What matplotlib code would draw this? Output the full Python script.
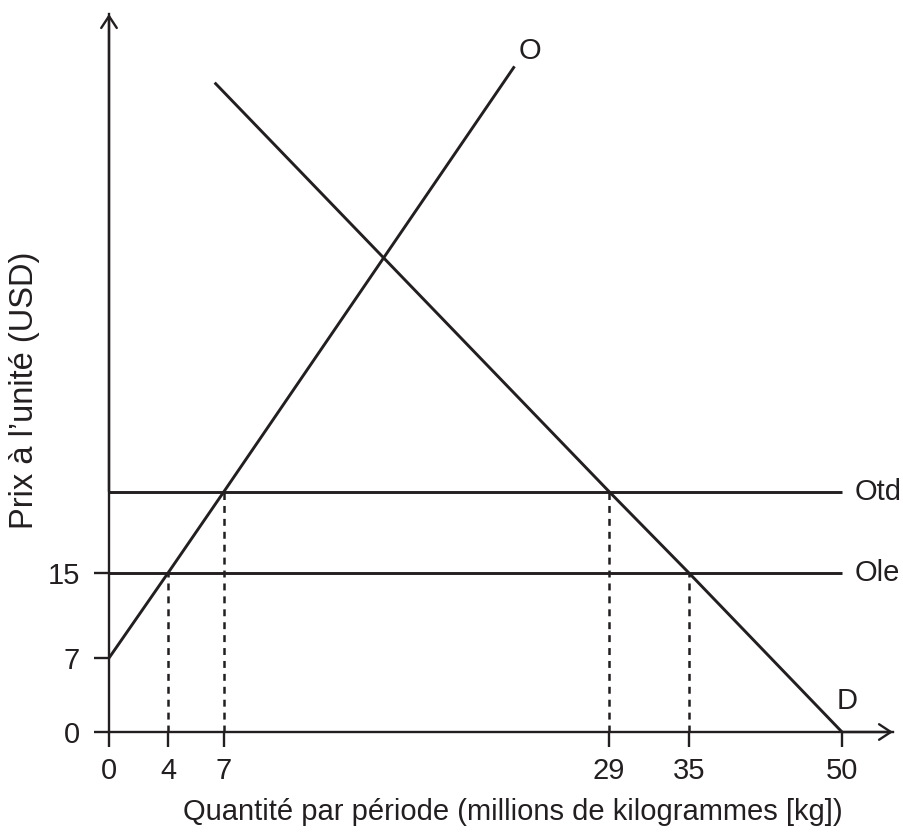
import numpy as np
import matplotlib
matplotlib.use("Agg")
import matplotlib.pyplot as plt

# Labelled values on the axes
q_ticks = [0, 4, 7, 29, 35, 50]
p_ticks = [0, 7, 15]

# Supply (O) and demand (D) curves
supply_q = [0, 4, 7, 23.6]
supply_p = [7, 15, 21, 52.3]
demand_q = [6.5, 29, 35, 50]
demand_p = [51.1, 21, 15, 0]

# Horizontal supply lines: world price (Ole) and price with tariff (Otd)
flat_names = ["Otd", "Ole"]
flat_p = [21, 15]
flat_q_end = 50

# Dashed guides down to the quantity axis
guide_q = [4, 7, 29, 35]
guide_p = [15, 21, 21, 15]

# The diagram is not drawn to scale: where each value sits on the page (pixels)
q_knots = [0, 4, 7, 29, 35, 50]
q_px = [109, 168, 224, 609, 689, 842]
p_knots = [0, 7, 15, 21]
p_px = [832 - 732, 832 - 658, 832 - 573, 832 - 491.5]
W, H = 904, 832


def piecewise(src, dst):
    src = np.asarray(src, float)
    dst = np.asarray(dst, float)
    s0 = (dst[1] - dst[0]) / (src[1] - src[0])
    s1 = (dst[-1] - dst[-2]) / (src[-1] - src[-2])

    def f(v):
        v = np.asarray(v, float)
        out = np.interp(v, src, dst)
        out = np.where(v < src[0], dst[0] + (v - src[0]) * s0, out)
        out = np.where(v > src[-1], dst[-1] + (v - src[-1]) * s1, out)
        return out
    return f


fx, ix = piecewise(q_knots, q_px), piecewise(q_px, q_knots)
fy, iy = piecewise(p_knots, p_px), piecewise(p_px, p_knots)

plt.rcParams['font.family'] = ['Liberation Sans', 'DejaVu Sans']
plt.rcParams['lines.scale_dashes'] = False
ink = '#231f20'

fig = plt.figure(figsize=(W / 100, H / 100), dpi=100)
ax = fig.add_axes([0, 0, 1, 1])
ax.set_xscale('function', functions=(fx, ix))
ax.set_yscale('function', functions=(fy, iy))
ax.set_xlim(float(ix(0)), float(ix(W)))
ax.set_ylim(float(iy(0)), float(iy(H)))
ax.patch.set_alpha(0)

q_tip = float(ix(893))
p_tip = float(iy(H - 14))

# axes with arrow heads
for side in ['top', 'right']:
    ax.spines[side].set_visible(False)
ax.spines['bottom'].set_position(('data', 0))
ax.spines['left'].set_position(('data', 0))
ax.spines['bottom'].set_bounds(0, q_tip)
ax.spines['left'].set_bounds(0, p_tip)
for side in ['bottom', 'left']:
    ax.spines[side].set_linewidth(1.7)
    ax.spines[side].set_color(ink)

arrow = dict(arrowstyle='->,head_length=0.85,head_width=0.56', lw=1.7,
             color=ink, shrinkA=0, shrinkB=0, mutation_scale=10)
ax.annotate('', xy=(q_tip, 0), xytext=(50, 0), arrowprops=arrow)
ax.annotate('', xy=(0, p_tip), xytext=(0, 21), arrowprops=arrow)

ax.set_xticks(q_ticks, [str(v) for v in q_ticks])
ax.set_yticks(p_ticks, [str(v) for v in p_ticks])
ax.minorticks_off()
ax.tick_params(direction='out', length=11, width=1.7, color=ink,
               labelsize=21, labelcolor=ink)
ax.tick_params(axis='x', pad=7)
ax.tick_params(axis='y', pad=10)

line_kw = dict(color=ink, lw=2.1, solid_capstyle='butt')
ax.plot(supply_q, supply_p, **line_kw)
ax.plot(demand_q, demand_p, **line_kw)
for name, p in zip(flat_names, flat_p):
    ax.plot([0, flat_q_end], [p, p], **line_kw)
    ax.annotate(name, xy=(flat_q_end, p), xytext=(9, 0), textcoords='offset points',
                ha='left', va='center', fontsize=21, color=ink)

for q, p in zip(guide_q, guide_p):
    ax.plot([q, q], [0, p], color=ink, lw=1.8, linestyle=(0, (5, 4.3)))

ax.annotate('O', xy=(supply_q[-1], supply_p[-1]), xytext=(11, 11),
            textcoords='offset points', ha='center', va='center',
            fontsize=21, color=ink)
ax.annotate('D', xy=(demand_q[-1], demand_p[-1]), xytext=(4, 22),
            textcoords='offset points', ha='center', va='center',
            fontsize=21, color=ink)

ax.text(513 / W, 1 - 812 / H, 'Quantité par période (millions de kilogrammes [kg])',
        transform=ax.transAxes, ha='center', va='center', fontsize=21, color=ink)
ax.text(25 / W, 1 - 390 / H, 'Prix à l’unité (USD)', transform=ax.transAxes,
        ha='center', va='center', rotation=90, fontsize=23.5, color=ink)

fig.savefig('out.png', dpi=100, facecolor='white')
